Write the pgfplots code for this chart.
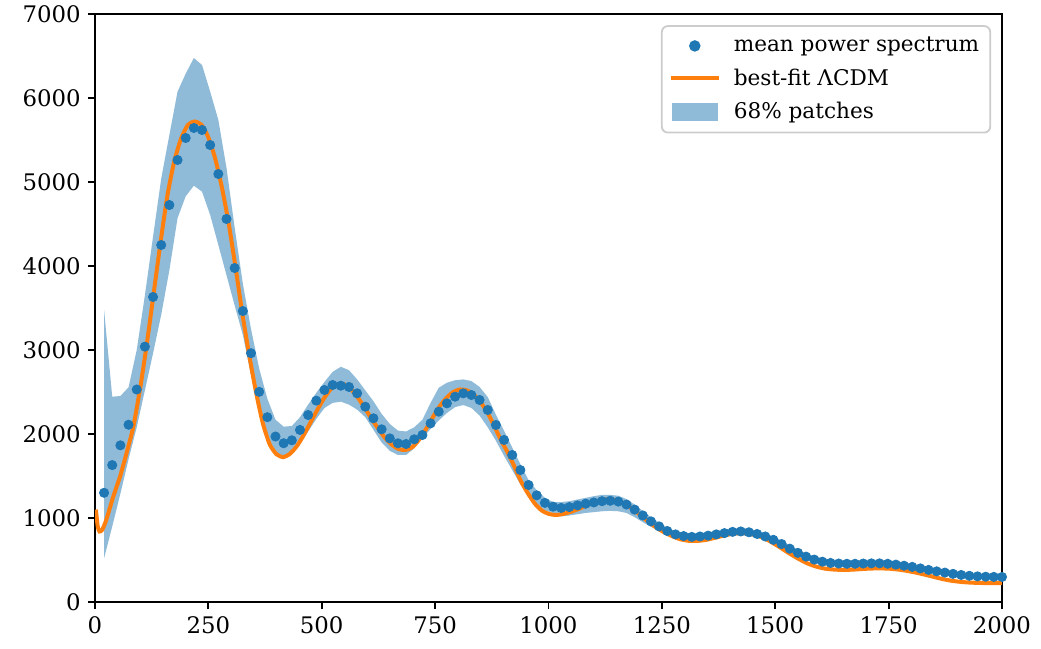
\documentclass[border=0pt]{standalone}
\usepackage{fontspec}
\setmainfont{DejaVu Serif}
\usepackage{pgfplots}
\pgfplotsset{compat=1.18}
\usepackage{pgfplotstable}
\usepgfplotslibrary{fillbetween}
\definecolor{cblue}{HTML}{1F77B4}
\definecolor{corange}{HTML}{FF7F0E}
\definecolor{cband}{HTML}{8FBBD9}

\pgfplotsset{
  legdot/.style={legend image code/.code={\fill[##1] (12pt,0pt) circle (2.4pt);}},
  legline/.style={legend image code/.code={\draw[##1] (0pt,0pt) -- (24pt,0pt);}},
  legband/.style={legend image code/.code={\fill[##1, sharp corners] (1pt,-4pt) rectangle (23pt,4pt);}},
}

% binned mean spectrum and 68% band
\pgfplotstableread{
l dot lo hi
20 1300 520 3480
38 1630 900 2444
56 1865 1290 2452
74 2110 1700 2556
92 2530 2080 3000
110 3040 2520 3650
128 3631 2960 4350
146 4250 3420 5040
164 4726 3950 5560
182 5262 4570 6075
200 5524 4830 6290
218 5643 4956 6476
236 5619 4885 6393
254 5440 4607 6075
272 5095 4250 5738
290 4560 3890 5167
308 3976 3530 4456
326 3464 3180 3789
344 2962 2700 3250
362 2502 2300 2780
380 2200 1980 2420
398 1970 1790 2170
416 1890 1720 2087
434 1925 1760 2095
452 2048 1880 2200
470 2226 2030 2350
488 2397 2180 2490
506 2524 2310 2620
524 2583 2370 2740
542 2575 2385 2800
560 2560 2350 2760
578 2484 2290 2650
596 2325 2200 2520
614 2187 2050 2390
632 2056 1900 2240
650 1948 1800 2120
668 1889 1750 2040
686 1881 1750 2030
704 1937 1830 2080
722 1988 1950 2170
740 2127 2060 2370
758 2266 2160 2550
776 2365 2250 2610
794 2444 2320 2640
812 2484 2345 2650
830 2464 2310 2630
848 2405 2220 2560
866 2286 2080 2440
884 2107 1920 2230
902 1929 1740 2040
920 1750 1570 1840
938 1571 1400 1640
956 1393 1260 1450
974 1270 1160 1330
992 1180 1090 1240
1010 1135 1060 1190
1028 1120 1020 1190
1046 1130 1030 1200
1064 1150 1045 1220
1082 1170 1060 1240
1100 1185 1070 1260
1118 1200 1080 1275
1136 1205 1085 1275
1154 1195 1080 1265
1172 1160 1060 1225
1190 1100 1010 1160
1208 1030 950 1085
1226 960 895 1010
1244 900 845 945
1262 845 800 885
1280 805 760 845
1298 785 740 825
1316 775 730 815
1334 780 735 820
1352 790 745 830
1370 805 760 845
1388 820 775 860
1406 835 790 875
1424 840 795 880
1442 830 785 870
1460 810 765 850
1478 780 735 820
1496 740 695 780
1514 690 645 730
1532 635 590 675
1550 585 540 625
1568 540 500 580
1586 505 465 545
1604 480 440 520
1622 465 425 505
1640 458 420 495
1658 455 418 492
1676 455 418 492
1694 458 420 495
1712 460 422 498
1730 460 422 498
1748 455 418 492
1766 445 408 482
1784 432 396 468
1802 418 382 454
1820 400 365 435
1838 382 348 416
1856 365 332 398
1874 350 318 382
1892 335 304 366
1910 322 292 352
1928 312 282 342
1946 305 276 334
1964 301 272 330
1982 299 270 328
2000 298 269 327
}\spec

% best-fit model
\pgfplotstableread{
l v
2 1100
6 900
10 840
16 860
25 980
40 1250
55 1490
70 1780
85 2100
100 2560
115 3100
130 3700
145 4300
160 4850
175 5250
190 5520
205 5680
220 5720
235 5680
250 5530
265 5280
280 4930
295 4500
310 3980
325 3430
340 2940
355 2500
370 2130
385 1880
400 1760
415 1725
430 1765
445 1855
460 1985
475 2135
490 2285
505 2425
520 2535
535 2590
550 2590
565 2530
580 2430
595 2310
610 2180
625 2060
640 1950
655 1870
670 1820
685 1810
700 1845
715 1935
730 2060
745 2200
760 2330
775 2430
790 2500
805 2530
820 2520
835 2470
850 2380
865 2260
880 2100
895 1930
910 1780
925 1610
940 1430
955 1290
970 1170
985 1090
1000 1050
1015 1036
1030 1045
1050 1075
1070 1115
1090 1165
1110 1205
1130 1222
1150 1210
1170 1160
1190 1090
1210 1000
1230 915
1250 845
1270 790
1290 748
1310 728
1330 728
1350 742
1370 768
1390 795
1410 815
1430 820
1450 805
1470 772
1490 718
1510 652
1530 582
1550 518
1570 462
1590 422
1610 397
1630 386
1650 382
1670 385
1690 392
1710 398
1730 400
1750 397
1770 387
1790 371
1810 350
1830 325
1850 298
1870 272
1890 252
1910 239
1930 231
1950 227
1970 225
2000 224
}\fit

\begin{document}
\begin{tikzpicture}
\begin{axis}[
    at={(0,0)}, anchor=south west,
    scale only axis,
    width=453.5pt, height=294pt,
    xmin=0, xmax=2000, ymin=0, ymax=7000,
    xtick={0,250,...,2000},
    ytick={0,1000,...,7000},
    xtick pos=lower, ytick pos=left,
    tick align=outside,
    major tick length=3.6pt,
    every tick/.style={black, line width=0.9pt},
    axis line style={line width=0.9pt},
    tick label style={font=\fontsize{11.4}{13}\selectfont},
    /pgf/number format/assume math mode=true,
    /pgf/number format/1000 sep={},
    legend cell align=left,
    legend style={at={(0.988,0.981)}, anchor=north east,
        draw=black!20, line width=0.9pt, rounded corners=3pt,
        font=\fontsize{10.8}{12.5}\selectfont,
        row sep=3pt, column sep=4.5pt, inner sep=3.5pt},
]
\addlegendimage{cblue, legdot}
\addlegendentry{mean power spectrum}
\addlegendimage{corange, line width=2pt, legline}
\addlegendentry{best-fit ΛCDM}
\addlegendimage{cband, legband}
\addlegendentry{68\% patches}

\addplot[draw=none, name path=up, forget plot] table[x=l, y=hi] {\spec};
\addplot[draw=none, name path=dn, forget plot] table[x=l, y=lo] {\spec};
\addplot[cband, forget plot] fill between[of=up and dn];
\addplot[only marks, mark=*, mark size=2.3pt, cblue, forget plot] table[x=l, y=dot] {\spec};
\addplot[corange, line width=2pt, smooth, tension=0.4, forget plot] table[x=l, y=v] {\fit};
\end{axis}
\pgfresetboundingbox
\path[use as bounding box] (-47.5pt,-23.5pt) rectangle (473pt,301pt);
\end{tikzpicture}
\end{document}
